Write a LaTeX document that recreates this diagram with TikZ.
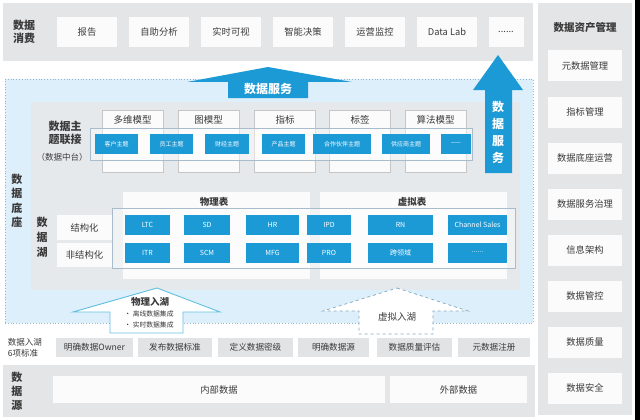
\documentclass[tikz,border=0pt]{standalone}
\usepackage{fontspec}
\setmainfont{Noto Sans CJK SC}
\definecolor{bandgray}{HTML}{E4E5E7}
\definecolor{stdgray}{HTML}{E2E3E5}
\definecolor{boxwhite}{HTML}{FBFBFB}
\definecolor{cellblue}{HTML}{1C9AD6}
\definecolor{lightblue}{HTML}{DDEFFA}
\definecolor{midgray}{HTML}{E6E9EC}
\definecolor{txt}{HTML}{3A3A3A}
\definecolor{dotc}{HTML}{8FB8D2}
\definecolor{stripc}{HTML}{A9BCCB}
\definecolor{phyc}{HTML}{62BFE0}
\tikzset{
  sz/.style 2 args={minimum width=#1pt, minimum height=#2pt, inner sep=0pt},
  band/.style={fill=bandgray, draw=none},
  wbox/.style={fill=boxwhite, draw=none, text=txt, font=\fontsize{9.3}{11}\selectfont},
  sbox/.style={fill=stdgray, draw=none, text=txt, font=\fontsize{8.6}{10}\selectfont},
  mbox/.style={fill=boxwhite, draw=gray!45, line width=0.6pt},
  mlabel/.style={text=txt, font=\fontsize{9.5}{11}\selectfont},
  bcell/.style={fill=cellblue, draw=none, text=white, font=\fontsize{7}{8}\selectfont},
  tcell/.style={fill=cellblue, draw=none, text=white, font=\fontsize{6}{7}\selectfont},
  title/.style={text=txt, font=\bfseries\fontsize{11}{13.5}\selectfont, align=center},
  vtitle/.style={text=txt, font=\bfseries\fontsize{11}{14.5}\selectfont, align=center},
  strip/.style={fill=white, fill opacity=0.45, draw=stripc, line width=0.6pt},
  bigarrow/.style={fill=cellblue, draw=none},
}
\begin{document}
\begin{tikzpicture}[x=1pt,y=-1pt]
\useasboundingbox (0,0) rectangle (640,420);
\fill[white] (0,0) rectangle (640,420);
\fill[black] (635,0) rectangle (640,420);

% ---- data consumption band
\node[band, sz={530}{58}] (cons) at (268,32) {};
\node[title] (consl) at (24,32) {数据\\消费};
\node[wbox, sz={60}{30}] (c1) at (87,32) {报告};
\node[wbox, sz={60}{30}] (c2) at (159,32) {自助分析};
\node[wbox, sz={60}{30}] (c3) at (231,32) {实时可视};
\node[wbox, sz={60}{30}] (c4) at (303,32) {智能决策};
\node[wbox, sz={60}{30}] (c5) at (375,32) {运营监控};
\node[wbox, sz={60}{30}] (c6) at (447,32) {Data Lab};
\node[wbox, sz={35}{30}] (c7) at (506,32) {......};

% ---- right column: asset management
\node[band, sz={94}{412}] (asset) at (585,209) {};
\node[title, font=\bfseries\fontsize{10.5}{12}\selectfont] (assetl) at (585,28) {数据资产管理};
\node[wbox, sz={74}{31}] (a1) at (585,66) {元数据管理};
\node[wbox, sz={74}{31}] (a2) at (585,112) {指标管理};
\node[wbox, sz={74}{31}] (a3) at (585,158) {数据底座运营};
\node[wbox, sz={74}{31}] (a4) at (585,204) {数据服务治理};
\node[wbox, sz={74}{31}] (a5) at (585,250) {信息架构};
\node[wbox, sz={74}{31}] (a6) at (585,296) {数据管控};
\node[wbox, sz={74}{31}] (a7) at (585,342) {数据质量};
\node[wbox, sz={74}{31}] (a8) at (585,388) {数据安全};

% ---- data foundation region
\node[fill=lightblue, draw=dotc, dotted, line width=0.8pt, sz={528}{244}] (base) at (269,201) {};
\node[fill=midgray, draw=none, sz={489}{188}] (inner) at (275.5,196) {};
\node[vtitle] (basel) at (17,201) {数\\据\\底\\座};

% service arrow (horizontal banner)
\draw[bigarrow] (268,67) -- (352,82) -- (308,82) -- (308,98) -- (228,98) -- (228,82) -- (187,82) -- cycle;
\node[text=white, font=\bfseries\fontsize{12}{13}\selectfont] (svc) at (268,89) {数据服务};

% vertical service arrow
\draw[bigarrow] (498,55) -- (523,90) -- (512,90) -- (512,173) -- (485,173) -- (485,90) -- (473,90) -- cycle;
\node[text=white, font=\bfseries\fontsize{12}{17}\selectfont, align=center] (svc2) at (498,132) {数\\据\\服\\务};

% topic linkage
\node[title] (topl) at (65,133) {数据主\\题联接};
\node[text=txt, font=\fontsize{8.5}{10}\selectfont] (topl2) at (62,157) {（数据中台）};
\node[mbox, sz={61}{62}] (m1) at (132.5,141) {};
\node[mbox, sz={61}{62}] (m2) at (208.5,141) {};
\node[mbox, sz={61}{62}] (m3) at (285,141) {};
\node[mbox, sz={61}{62}] (m4) at (360,141) {};
\node[mbox, sz={61}{62}] (m5) at (435.5,141) {};
\node[mlabel] (ml1) at (132.5,120) {多维模型};
\node[mlabel] (ml2) at (208.5,120) {图模型};
\node[mlabel] (ml3) at (285,120) {指标};
\node[mlabel] (ml4) at (360,120) {标签};
\node[mlabel] (ml5) at (435.5,120) {算法模型};
\node[strip, sz={382}{32}] (tstrip) at (281,144) {};
\node[tcell, sz={43}{20}] (t1) at (116.5,144) {客户主题};
\node[tcell, sz={43}{20}] (t2) at (171.5,144) {员工主题};
\node[tcell, sz={44}{20}] (t3) at (227,144) {财经主题};
\node[tcell, sz={43}{20}] (t4) at (283.5,144) {产品主题};
\node[tcell, sz={58}{20}] (t5) at (342,144) {合作伙伴主题};
\node[tcell, sz={48}{20}] (t6) at (406,144) {供应商主题};
\node[tcell, sz={30}{20}] (t7) at (456,144) {——};

% data lake
\node[vtitle, font=\bfseries\fontsize{11}{15}\selectfont] (lakel) at (42,237) {数\\据\\湖};
\node[wbox, sz={55}{25}] (s1) at (84.5,227.5) {结构化};
\node[wbox, sz={55}{24}] (s2) at (84.5,255) {非结构化};
\node[wbox, sz={187}{87}] (p1) at (216.5,235.5) {};
\node[wbox, sz={187}{87}] (p2) at (413.5,235.5) {};
\node[text=txt, font=\bfseries\fontsize{9.5}{11}\selectfont] (p1l) at (214,202) {物理表};
\node[text=txt, font=\bfseries\fontsize{9.5}{11}\selectfont] (p2l) at (412,202) {虚拟表};
\node[strip, sz={403}{60}] (lstrip) at (313.5,238) {};
\node[bcell, sz={45}{20}] (l1) at (147.5,225) {LTC};
\node[bcell, sz={46}{20}] (l2) at (207,225) {SD};
\node[bcell, sz={53}{20}] (l3) at (272.5,225) {HR};
\node[bcell, sz={44}{20}] (l4) at (329,225) {IPD};
\node[bcell, sz={65}{20}] (l5) at (400.5,225) {RN};
\node[bcell, sz={59}{20}] (l6) at (477.5,225) {Channel Sales};
\node[bcell, sz={45}{20}] (u1) at (147.5,252.5) {ITR};
\node[bcell, sz={46}{20}] (u2) at (207,252.5) {SCM};
\node[bcell, sz={53}{20}] (u3) at (272.5,252.5) {MFG};
\node[bcell, sz={44}{20}] (u4) at (329,252.5) {PRO};
\node[bcell, sz={65}{20}] (u5) at (400.5,252.5) {跨领域};
\node[bcell, sz={59}{20}] (u6) at (477.5,252.5) {......};

% ingestion arrows
\draw[fill=white, draw=phyc, line width=0.9pt] (157,288) -- (220,312) -- (183,312) -- (183,333) -- (110,333) -- (110,312) -- (73,312) -- cycle;
\node[text=txt, font=\bfseries\fontsize{9.5}{11}\selectfont] (phy) at (150,302) {物理入湖};
\node[text=txt, font=\fontsize{6.8}{11}\selectfont, align=left] (phyb) at (149,319.5) {• 离线数据集成\\• 实时数据集成};
\draw[fill=white, draw=dotc!90!black, dashed, line width=0.7pt] (397,288) -- (468,311) -- (433,311) -- (433,334) -- (359,334) -- (359,311) -- (323,311) -- cycle;
\node[text=txt, font=\fontsize{9.5}{11}\selectfont] (vir) at (397,317) {虚拟入湖};

% standards row
\node[text=txt, font=\fontsize{8.5}{11}\selectfont, align=left] (stdl) at (25,348) {数据入湖\\6项标准};
\node[sbox, sz={77}{19}] (d1) at (94.5,347.5) {明确数据Owner};
\node[sbox, sz={74}{19}] (d2) at (175,347.5) {发布数据标准};
\node[sbox, sz={75}{19}] (d3) at (255.5,347.5) {定义数据密级};
\node[sbox, sz={71}{19}] (d4) at (333.5,347.5) {明确数据源};
\node[sbox, sz={75}{19}] (d5) at (414.5,347.5) {数据质量评估};
\node[sbox, sz={72}{19}] (d6) at (494,347.5) {元数据注册};

% data source band
\node[band, sz={532}{52}] (src) at (269,391) {};
\node[vtitle, font=\bfseries\fontsize{11}{14}\selectfont] (srcl) at (17,391) {数\\据\\源};
\node[wbox, sz={332}{27}] (e1) at (219,389.5) {内部数据};
\node[wbox, sz={137}{27}] (e2) at (458.5,389.5) {外部数据};
\end{tikzpicture}
\end{document}
